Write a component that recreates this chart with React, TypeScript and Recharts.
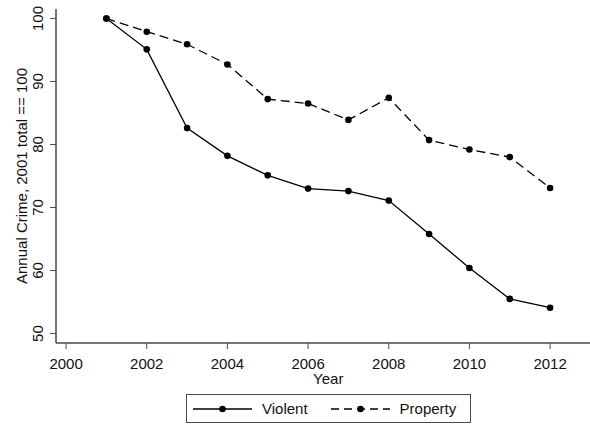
import { LineChart, Line, XAxis, YAxis } from 'recharts';

const years = [2001, 2002, 2003, 2004, 2005, 2006, 2007, 2008, 2009, 2010, 2011, 2012];
const violent = [100, 95.1, 82.6, 78.2, 75.1, 73.0, 72.6, 71.1, 65.8, 60.4, 55.5, 54.1];
const property = [100, 97.9, 95.9, 92.7, 87.2, 86.5, 83.9, 87.4, 80.7, 79.2, 78.0, 73.1];
const xTicks = [2000, 2002, 2004, 2006, 2008, 2010, 2012];
const yTicks = [50, 60, 70, 80, 90, 100];

const data = years.map((year, i) => ({ year, violent: violent[i], property: property[i] }));

const font = '"Liberation Sans", Arial, sans-serif';
const axisColor = '#4a4a4a';
const textColor = '#111';

const YTick = ({ x, y, payload }: any) => (
  <text
    transform={`translate(${x - 5},${y}) rotate(-90)`}
    textAnchor="middle"
    fontSize={15}
    fontFamily={font}
    fill={textColor}
  >
    {payload.value}
  </text>
);

const YLabel = ({ viewBox }: any) => (
  <text
    transform={`translate(${viewBox.x + 27},${viewBox.y + viewBox.height / 2}) rotate(-90)`}
    textAnchor="middle"
    fontSize={15}
    fontFamily={font}
    fill={textColor}
  >
    Annual Crime, 2001 total == 100
  </text>
);

const XLabel = ({ viewBox }: any) => (
  <text
    x={viewBox.x + viewBox.width / 2}
    y={viewBox.y + 40.5}
    textAnchor="middle"
    fontSize={15}
    fontFamily={font}
    fill={textColor}
  >
    Year
  </text>
);

const LegendSample = ({ dashed }: { dashed: boolean }) => (
  <svg width={59} height={10} style={{ display: 'block' }}>
    <line x1={0} y1={5} x2={59} y2={5} stroke="#000" strokeWidth={1.3} strokeDasharray={dashed ? '8 5' : undefined} />
    <circle cx={29.5} cy={5} r={3.3} fill="#000" />
  </svg>
);

export default function App() {
  return (
    <div style={{ position: 'absolute', left: 0, top: 0, width: 590, height: 425, overflow: 'hidden', background: '#fff' }}>
      <LineChart width={610} height={425} data={data} margin={{ top: 9, right: 9.5, bottom: 52, left: 0 }}>
        <XAxis
          xAxisId="top"
          orientation="top"
          dataKey="year"
          type="number"
          domain={[1999.75, 2013.25]}
          height={0}
          tick={false}
          tickLine={false}
          axisLine={{ stroke: axisColor, strokeWidth: 1.5 }}
          allowDataOverflow
        />
        <XAxis
          dataKey="year"
          type="number"
          domain={[1999.75, 2013.25]}
          ticks={xTicks}
          height={30}
          tickSize={6}
          tickMargin={9}
          allowDataOverflow
          axisLine={{ stroke: axisColor, strokeWidth: 1.5 }}
          tickLine={{ stroke: axisColor }}
          tick={{ fontSize: 15, fontFamily: font, fill: textColor }}
          label={<XLabel />}
        />
        <YAxis
          type="number"
          domain={[48.5, 101.5]}
          ticks={yTicks}
          width={56}
          tickSize={6}
          tickMargin={2}
          allowDataOverflow
          axisLine={{ stroke: axisColor, strokeWidth: 1.5 }}
          tickLine={{ stroke: axisColor }}
          tick={<YTick />}
          label={<YLabel />}
        />
        <Line
          dataKey="violent"
          stroke="#000"
          strokeWidth={1.3}
          dot={{ r: 3.3, fill: '#000', stroke: '#000', strokeWidth: 0 }}
          isAnimationActive={false}
        />
        <Line
          dataKey="property"
          stroke="#000"
          strokeWidth={1.3}
          strokeDasharray="9 5"
          dot={{ r: 3.3, fill: '#000', stroke: '#000', strokeWidth: 0, strokeDasharray: '' }}
          isAnimationActive={false}
        />
      </LineChart>
      <div
        style={{
          position: 'absolute',
          left: 186,
          top: 394,
          width: 285,
          height: 29,
          boxSizing: 'border-box',
          border: `1px solid ${axisColor}`,
          display: 'flex',
          alignItems: 'center',
          paddingLeft: 6,
          fontFamily: font,
          fontSize: 15,
          color: textColor,
        }}
      >
        <LegendSample dashed={false} />
        <span style={{ marginLeft: 10 }}>Violent</span>
        <span style={{ marginLeft: 23, display: 'block' }}>
          <LegendSample dashed />
        </span>
        <span style={{ marginLeft: 10 }}>Property</span>
      </div>
    </div>
  );
}
